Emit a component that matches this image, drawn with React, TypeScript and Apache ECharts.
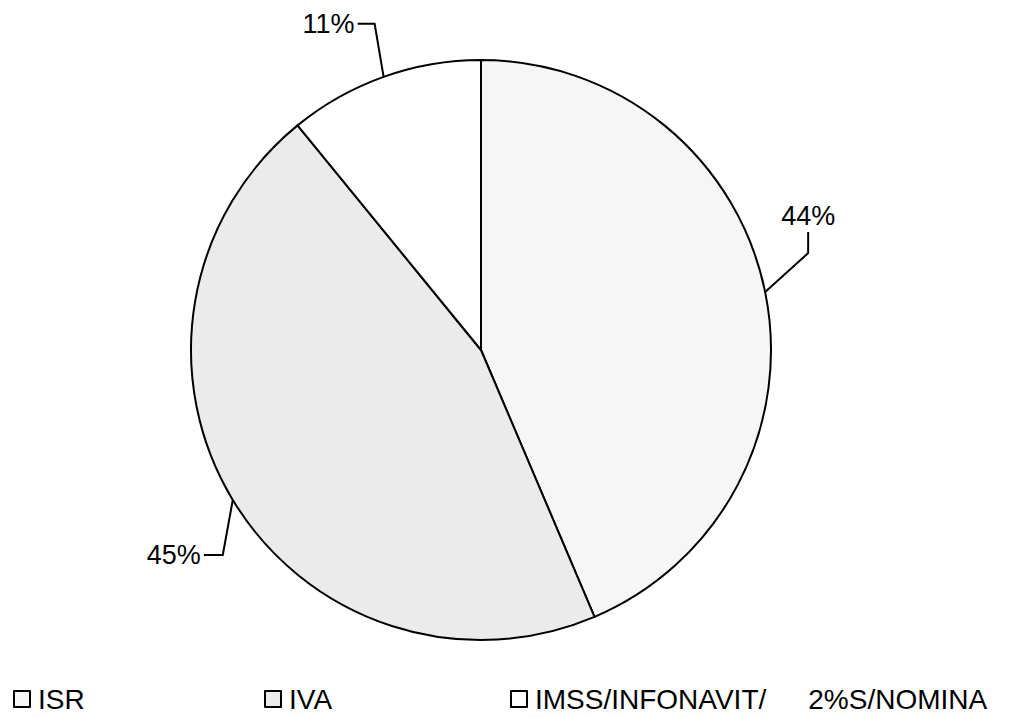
import React, { useEffect, useRef } from "react";
import * as echarts from "echarts";

const categories = ["ISR", "IVA", "IMSS/INFONAVIT/ 2%S/NOMINA"];
const values = [43.6, 45.5, 10.9];
const colors = ["#f6f6f6", "#ebebeb", "#ffffff"];

// leader line offsets (layout only): [dx1, dy1, dx2, dy2]
const leaders = [
  [43, -39, 0, -21],
  [-10, 55, -19, 0],
  [-9, -53, -17, 0],
];
const legendLefts = [13, 264, 510];

export default function App() {
  const ref = useRef<HTMLDivElement>(null);
  useEffect(() => {
    const chart = echarts.init(ref.current!, undefined, { renderer: "svg" });
    const font = "'Liberation Sans', Arial, sans-serif";
    chart.setOption({
      animation: false,
      backgroundColor: "#ffffff",
      legend: [0, 1, 2].map((i) => ({
        data: [categories[i]],
        left: legendLefts[i],
        top: 685,
        padding: 0,
        icon: "rect",
        itemWidth: 16,
        itemHeight: 16,
        itemGap: 0,
        selectedMode: false,
        itemStyle: { borderColor: "#000", borderWidth: 2 },
        textStyle: {
          fontFamily: font,
          fontSize: 28,
          color: "#000",
          padding: [0, 0, 0, 3],
          rich: {
            a: { fontFamily: font, fontSize: 28, color: "#000" },
            b: { fontFamily: font, fontSize: 28, color: "#000", padding: [0, 0, 0, 42] },
          },
        },
        formatter: (name: string) => {
          if (name.indexOf(" ") >= 0) {
            const parts = name.split(" ");
            return "{a|" + parts[0] + "}{b|" + parts[1] + "}";
          }
          return name;
        },
      })),
      series: [
        {
          type: "pie",
          center: [481, 350],
          radius: [0, 290],
          startAngle: 90,
          clockwise: true,
          percentPrecision: 0,
          data: categories.map((c, i) => ({
            name: c,
            value: values[i],
            itemStyle: { color: colors[i] },
          })),
          itemStyle: { borderColor: "#000", borderWidth: 2 },
          emphasis: { disabled: true },
          label: {
            show: true,
            position: "outside",
            formatter: "{d}%",
            fontFamily: font,
            fontSize: 27,
            color: "#000",
          },
          labelLine: {
            show: true,
            length: 30,
            length2: 20,
            lineStyle: { color: "#000", width: 2 },
          },
          labelLayout: (params: any) => {
            const i = params.dataIndex;
            const p0 = params.labelLinePoints[0];
            const o = leaders[i];
            const p1 = [p0[0] + o[0], p0[1] + o[1]];
            const p2 = [p1[0] + o[2], p1[1] + o[3]];
            if (i === 0) {
              return {
                x: p2[0],
                y: p2[1] - 3,
                align: "center",
                verticalAlign: "bottom",
                labelLinePoints: [p0, p1, p2],
              };
            }
            return {
              x: p2[0] - 3,
              y: p2[1],
              align: "right",
              verticalAlign: "middle",
              labelLinePoints: [p0, p1, p2],
            };
          },
        },
      ],
    });
    return () => chart.dispose();
  }, []);
  return (
    <div
      ref={ref}
      style={{ position: "absolute", left: 0, top: 0, width: 1012, height: 717 }}
    />
  );
}
